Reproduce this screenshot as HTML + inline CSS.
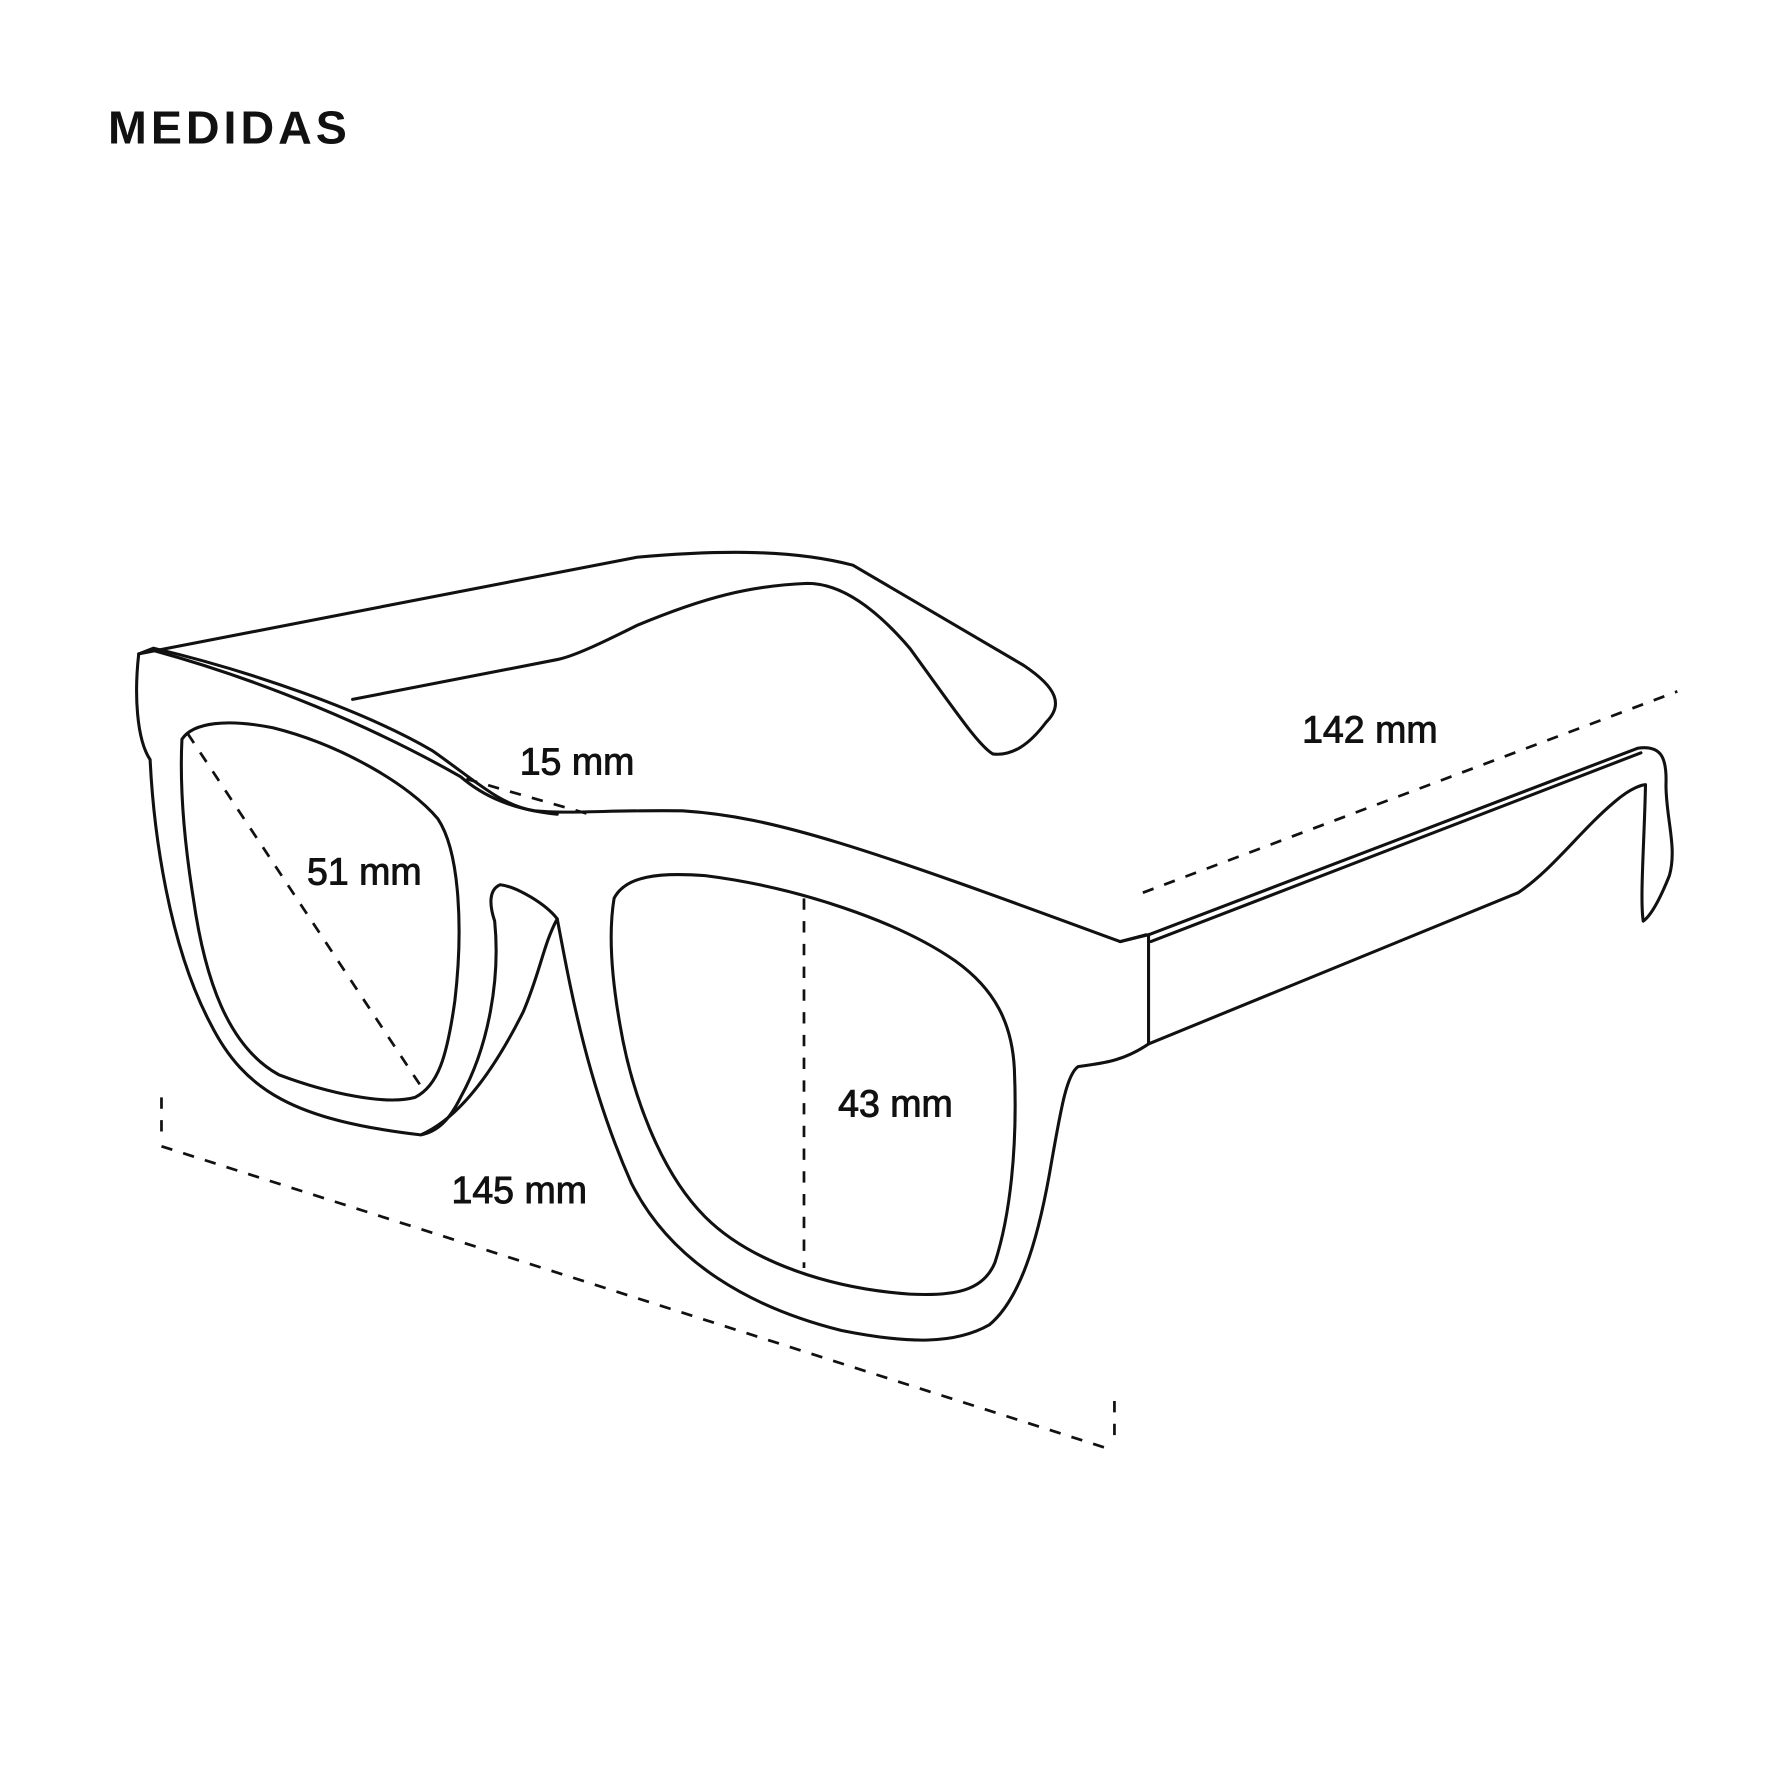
<!DOCTYPE html>
<html><head><meta charset="utf-8"><style>html,body{margin:0;padding:0;background:#fff}svg{display:block}</style></head>
<body>
<svg width="1774" height="1774" viewBox="0 0 1560 1560" xmlns="http://www.w3.org/2000/svg">
<rect width="1560" height="1560" fill="#fff"/>
<g fill="none" stroke="#111" stroke-width="2.7" stroke-linejoin="round" stroke-linecap="round">
<path d="M122,575 L560,490 C640,483 700,484 750,497 L900,585 C930,605 935,620 920,635 C905,655 890,665 873,663 C860,655 840,625 800,570 C770,535 740,513 710,513 C660,515 620,525 560,550 C530,565 505,577 490,580 L310,615"/>
<path d="M122,575 L135,570 C220,590 320,625 380,660 C420,688 440,708 470,713 C500,716 540,712 600,713 C680,718 760,745 985,828 L1008,822"/>
<path d="M135,572 C230,598 330,640 405,683 C425,700 450,712 490,716"/>
<path d="M122,575 C118,610 120,650 132,668 C135,730 148,830 185,900 C215,960 260,985 370,998 C400,985 430,950 460,890 C475,855 478,830 490,808 C480,795 455,780 440,778 C430,782 430,795 435,810 C440,860 430,920 405,965 C395,985 385,995 370,998"/>
<path d="M490,808 C500,860 515,950 555,1040 C590,1110 660,1150 740,1170 C800,1182 840,1182 870,1165 C900,1140 915,1080 925,1020 C933,975 938,945 948,938 C965,935 985,935 1010,918 L1010,822"/>
<path d="M985,828 L1010,822"/>
<path d="M1010,822 L1440,658 C1460,655 1466,665 1465,690 C1465,720 1475,745 1468,770 C1460,790 1452,805 1445,810 C1442,790 1446,740 1447,690 C1445,690 1435,692 1420,705 C1390,730 1365,765 1335,785 L1010,918"/>
<path d="M1012,828 L1443,662"/>
<path d="M160,650 C170,635 200,632 240,640 C300,655 360,690 385,720 C405,750 407,820 400,880 C393,930 385,955 365,965 C340,972 290,962 245,945 C200,920 180,860 170,790 C162,740 158,690 160,650 Z"/>
<path d="M540,790 C550,770 580,767 620,770 C700,780 790,810 840,845 C875,870 890,900 892,940 C895,1010 888,1070 875,1110 C865,1135 840,1140 800,1138 C730,1133 660,1110 620,1070 C580,1030 555,960 545,900 C538,860 535,820 540,790 Z"/>
</g>
<g fill="none" stroke="#111" stroke-width="2.4" stroke-dasharray="10,10">
<path d="M165,645 L372,958"/>
<path d="M707,790 L707,1115"/>
<path d="M410,685 L525,718"/>
<path d="M142,965 L142,1005"/>
<path d="M142,1008 L978,1275"/>
<path d="M980,1232 L980,1272"/>
<path d="M1005,785 L1475,608"/>
</g>
<g font-family="Liberation Sans, sans-serif" fill="#111">
<text x="95" y="126" font-size="41" font-weight="bold" letter-spacing="3.5">MEDIDAS</text>
<g font-size="33" stroke="#111" stroke-width="0.8">
<text x="457" y="681">15 mm</text>
<text x="270" y="778">51 mm</text>
<text x="737" y="982">43 mm</text>
<text x="397" y="1058">145 mm</text>
<text x="1145" y="653">142 mm</text>
</g>
</g>
</svg>
</body></html>
